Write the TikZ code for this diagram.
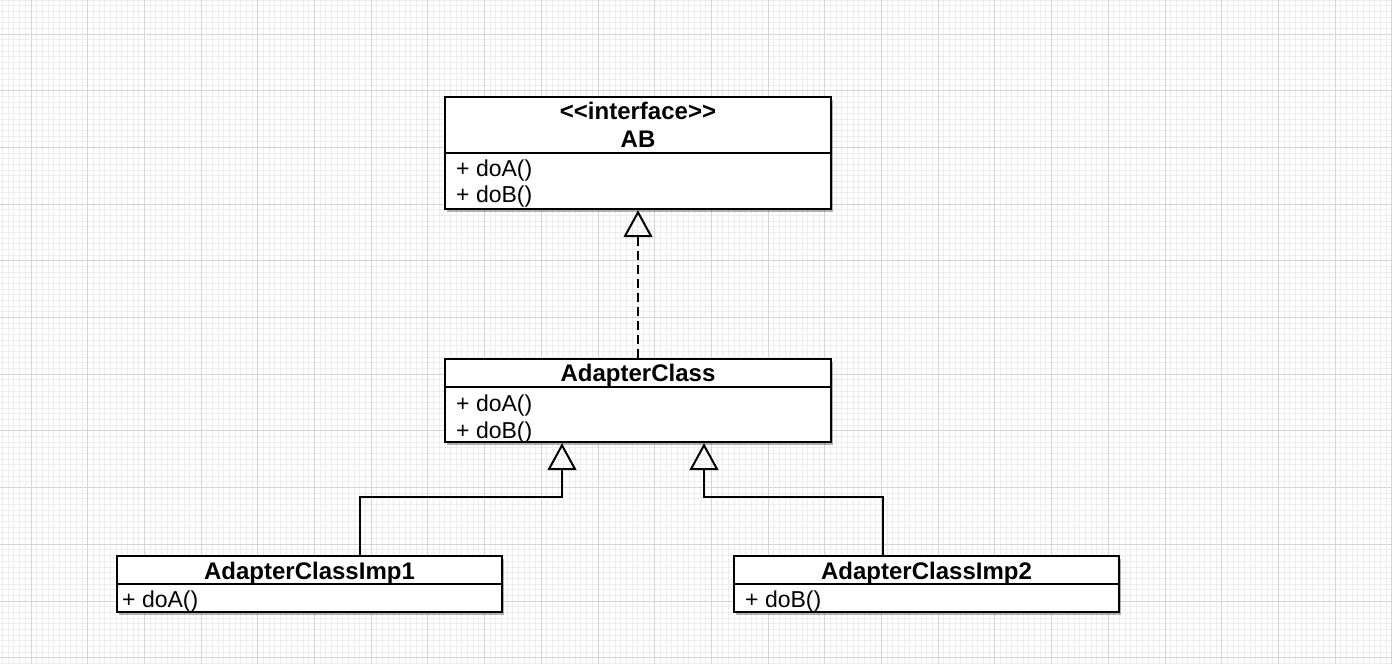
\documentclass[tikz,border=0pt]{standalone}
\usepackage{fontspec}
\setmainfont{Liberation Sans}
\usetikzlibrary{arrows.meta,shadows,calc}

\definecolor{gridline}{HTML}{EDEDED}
\definecolor{gridbold}{HTML}{D5D5D5}

\begin{document}
\begin{tikzpicture}[x=1pt,y=-1pt,
  umlclass/.style={draw,line width=2.4pt,fill=white,inner sep=0pt,
    drop shadow={shadow xshift=2pt,shadow yshift=-3pt,opacity=0.3,fill=black}},
  classname/.style={font=\fontsize{24}{28}\selectfont\bfseries,anchor=base,inner sep=0pt},
  member/.style={font=\fontsize{23}{27}\selectfont,anchor=base west,inner sep=0pt},
  divider/.style={line width=2pt},
  hollow/.style={-{Triangle[open,length=27pt,width=29pt]},line width=2pt},
  realize/.style={hollow,dash pattern=on 9pt off 5pt}]
  \useasboundingbox[fill=white] (0,0) rectangle (1392,664);
  \foreach \i in {0,...,245}
    \draw[gridline,line width=1pt] ({2.65+\i*5.67},0) -- ({2.65+\i*5.67},664);
  \foreach \j in {0,...,117}
    \draw[gridline,line width=1pt] (0,{\j*5.67}) -- (1392,{\j*5.67});
  \foreach \i in {0,...,24}
    \draw[gridbold,line width=1pt] ({31+\i*56.7},0) -- ({31+\i*56.7},664);
  \foreach \j in {0,...,11}
    \draw[gridbold,line width=1pt] (0,{34+\j*56.7}) -- (1392,{34+\j*56.7});

  \node[umlclass,minimum width=386pt,minimum height=112pt] (ab) at (638,153) {};
  \draw[divider] (ab.west) -- (ab.east);
  \node[classname] (abstereo) at (638,119) {<{}<interface>{}>};
  \node[classname] (abname) at (638,147.5) {AB};
  \node[member] (abdoa) at (456,176.5) {+ doA()};
  \node[member] (abdob) at (456,202.5) {+ doB()};

  \node[umlclass,minimum width=386pt,minimum height=83pt] (adapter) at (638,400.5) {};
  \draw[divider] ($(adapter.west)+(0,-13.5)$) -- ($(adapter.east)+(0,-13.5)$);
  \node[classname] (adaptername) at (638,381.5) {AdapterClass};
  \node[member] (adapterdoa) at (456,411) {+ doA()};
  \node[member] (adapterdob) at (456,438) {+ doB()};

  \node[umlclass,minimum width=385pt,minimum height=56pt] (imp1) at (309.5,584) {};
  \draw[divider] (imp1.west) -- (imp1.east);
  \node[classname] (imp1name) at (309.5,579) {AdapterClassImp1};
  \node[member] (imp1doa) at (122,607.5) {+ doA()};

  \node[umlclass,minimum width=385pt,minimum height=56pt] (imp2) at (926.5,584) {};
  \draw[divider] (imp2.west) -- (imp2.east);
  \node[classname] (imp2name) at (926.5,579) {AdapterClassImp2};
  \node[member] (imp2dob) at (745,607.5) {+ doB()};

  \draw[realize] (adapter.north) -- (ab.south);
  \draw[hollow] ($(imp1.north)+(50.5,0)$) -- ++(0,-58) -| ($(adapter.south)+(-76,0)$);
  \draw[hollow] ($(imp2.north)+(-43.5,0)$) -- ++(0,-58) -| ($(adapter.south)+(66,0)$);
\end{tikzpicture}
\end{document}
